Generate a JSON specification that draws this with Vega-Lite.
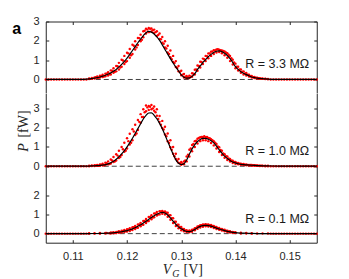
{
"$schema":"https://vega.github.io/schema/vega-lite/v6.json",
"background":"white",
"autosize":{"type":"pad"},
"padding":{"left":11.75,"top":15.5,"right":0,"bottom":0},
"spacing":0,
"bounds":"flush",
"config":{"view":{"stroke":null},"axis":{"grid":false,"domainColor":"#262626","tickColor":"#262626","labelColor":"#262626","labelFont":"Liberation Sans","labelFontSize":11,"tickSize":-3,"labelPadding":9.7,"titleColor":"#262626","domainWidth":1,"tickWidth":1},"axisX":{"labelPadding":11}},
"datasets":{
"base":[{"x":0.105,"y":0},{"x":0.1055,"y":0},{"x":0.106,"y":0},{"x":0.1065,"y":0},{"x":0.107,"y":0},{"x":0.1075,"y":0},{"x":0.108,"y":0},{"x":0.1085,"y":0},{"x":0.109,"y":0},{"x":0.1095,"y":0},{"x":0.11,"y":0},{"x":0.1105,"y":0},{"x":0.111,"y":0},{"x":0.1115,"y":0},{"x":0.112,"y":0},{"x":0.1125,"y":0},{"x":0.1465,"y":0},{"x":0.147,"y":0},{"x":0.1475,"y":0},{"x":0.148,"y":0},{"x":0.1485,"y":0},{"x":0.149,"y":0},{"x":0.1495,"y":0},{"x":0.15,"y":0},{"x":0.1505,"y":0},{"x":0.151,"y":0},{"x":0.1515,"y":0},{"x":0.152,"y":0},{"x":0.1525,"y":0},{"x":0.153,"y":0},{"x":0.1535,"y":0},{"x":0.154,"y":0},{"x":0.1545,"y":0},{"x":0.155,"y":0}],
"fT":[{"x":0.105,"y":0},{"x":0.108,"y":0},{"x":0.11,"y":0},{"x":0.112,"y":0.01},{"x":0.113,"y":0.03},{"x":0.1135,"y":0.05},{"x":0.114,"y":0.07},{"x":0.1145,"y":0.1},{"x":0.115,"y":0.13},{"x":0.1155,"y":0.17},{"x":0.116,"y":0.22},{"x":0.1165,"y":0.28},{"x":0.117,"y":0.34},{"x":0.1175,"y":0.43},{"x":0.118,"y":0.52},{"x":0.1185,"y":0.65},{"x":0.119,"y":0.78},{"x":0.1195,"y":0.94},{"x":0.12,"y":1.1},{"x":0.1205,"y":1.3},{"x":0.121,"y":1.5},{"x":0.1215,"y":1.7},{"x":0.122,"y":1.9},{"x":0.1225,"y":2.09},{"x":0.123,"y":2.27},{"x":0.1235,"y":2.42},{"x":0.124,"y":2.49},{"x":0.1245,"y":2.45},{"x":0.125,"y":2.35},{"x":0.1255,"y":2.2},{"x":0.126,"y":2.02},{"x":0.1265,"y":1.79},{"x":0.127,"y":1.55},{"x":0.1275,"y":1.31},{"x":0.128,"y":1.08},{"x":0.1285,"y":0.85},{"x":0.129,"y":0.64},{"x":0.1295,"y":0.44},{"x":0.13,"y":0.24},{"x":0.1305,"y":0.12},{"x":0.131,"y":0.07},{"x":0.1315,"y":0.08},{"x":0.132,"y":0.16},{"x":0.1325,"y":0.3},{"x":0.133,"y":0.52},{"x":0.1335,"y":0.7},{"x":0.134,"y":0.88},{"x":0.1345,"y":1.03},{"x":0.135,"y":1.18},{"x":0.1355,"y":1.3},{"x":0.136,"y":1.4},{"x":0.1365,"y":1.46},{"x":0.137,"y":1.48},{"x":0.1375,"y":1.44},{"x":0.138,"y":1.36},{"x":0.1385,"y":1.24},{"x":0.139,"y":1.08},{"x":0.1395,"y":0.88},{"x":0.14,"y":0.66},{"x":0.1405,"y":0.52},{"x":0.141,"y":0.4},{"x":0.1415,"y":0.32},{"x":0.142,"y":0.25},{"x":0.1425,"y":0.19},{"x":0.143,"y":0.13},{"x":0.1435,"y":0.1},{"x":0.144,"y":0.07},{"x":0.1445,"y":0.05},{"x":0.145,"y":0.04},{"x":0.1455,"y":0.03},{"x":0.146,"y":0.02},{"x":0.148,"y":0.005},{"x":0.15,"y":0},{"x":0.155,"y":0}],
"dT":[{"x":0.113,"y":0.05},{"x":0.113,"y":0.02},{"x":0.1135,"y":0.08},{"x":0.1135,"y":0.03},{"x":0.114,"y":0.1},{"x":0.114,"y":0.05},{"x":0.1145,"y":0.15},{"x":0.1145,"y":0.07},{"x":0.115,"y":0.19},{"x":0.115,"y":0.1},{"x":0.1155,"y":0.24},{"x":0.1155,"y":0.13},{"x":0.116,"y":0.3},{"x":0.116,"y":0.17},{"x":0.1165,"y":0.38},{"x":0.1165,"y":0.21},{"x":0.117,"y":0.47},{"x":0.117,"y":0.26},{"x":0.1175,"y":0.58},{"x":0.1175,"y":0.35},{"x":0.118,"y":0.7},{"x":0.118,"y":0.42},{"x":0.1185,"y":0.86},{"x":0.1185,"y":0.52},{"x":0.119,"y":1.02},{"x":0.119,"y":0.66},{"x":0.1195,"y":1.22},{"x":0.1195,"y":0.8},{"x":0.12,"y":1.38},{"x":0.12,"y":0.95},{"x":0.1205,"y":1.58},{"x":0.1205,"y":1.12},{"x":0.121,"y":1.8},{"x":0.121,"y":1.32},{"x":0.1215,"y":1.98},{"x":0.1215,"y":1.55},{"x":0.122,"y":2.15},{"x":0.122,"y":1.78},{"x":0.1225,"y":2.32},{"x":0.1225,"y":1.98},{"x":0.123,"y":2.5},{"x":0.123,"y":2.18},{"x":0.1235,"y":2.62},{"x":0.1235,"y":2.38},{"x":0.124,"y":2.66},{"x":0.124,"y":2.45},{"x":0.1245,"y":2.64},{"x":0.1245,"y":2.48},{"x":0.125,"y":2.58},{"x":0.125,"y":2.4},{"x":0.1255,"y":2.5},{"x":0.1255,"y":2.25},{"x":0.126,"y":2.38},{"x":0.126,"y":2.1},{"x":0.1265,"y":2.2},{"x":0.1265,"y":1.9},{"x":0.127,"y":1.98},{"x":0.127,"y":1.65},{"x":0.1275,"y":1.75},{"x":0.1275,"y":1.4},{"x":0.128,"y":1.5},{"x":0.128,"y":1.15},{"x":0.1285,"y":1.22},{"x":0.1285,"y":0.9},{"x":0.129,"y":0.95},{"x":0.129,"y":0.65},{"x":0.1295,"y":0.7},{"x":0.1295,"y":0.42},{"x":0.13,"y":0.45},{"x":0.13,"y":0.22},{"x":0.1305,"y":0.28},{"x":0.1305,"y":0.1},{"x":0.131,"y":0.18},{"x":0.131,"y":0.06},{"x":0.1315,"y":0.2},{"x":0.1315,"y":0.07},{"x":0.132,"y":0.32},{"x":0.132,"y":0.14},{"x":0.1325,"y":0.5},{"x":0.1325,"y":0.26},{"x":0.133,"y":0.72},{"x":0.133,"y":0.45},{"x":0.1335,"y":0.92},{"x":0.1335,"y":0.62},{"x":0.134,"y":1.08},{"x":0.134,"y":0.8},{"x":0.1345,"y":1.22},{"x":0.1345,"y":0.95},{"x":0.135,"y":1.35},{"x":0.135,"y":1.1},{"x":0.1355,"y":1.44},{"x":0.1355,"y":1.22},{"x":0.136,"y":1.52},{"x":0.136,"y":1.32},{"x":0.1365,"y":1.55},{"x":0.1365,"y":1.4},{"x":0.137,"y":1.54},{"x":0.137,"y":1.42},{"x":0.1375,"y":1.5},{"x":0.1375,"y":1.36},{"x":0.138,"y":1.45},{"x":0.138,"y":1.25},{"x":0.1385,"y":1.36},{"x":0.1385,"y":1.12},{"x":0.139,"y":1.22},{"x":0.139,"y":0.95},{"x":0.1395,"y":1.02},{"x":0.1395,"y":0.78},{"x":0.14,"y":0.82},{"x":0.14,"y":0.58},{"x":0.1405,"y":0.66},{"x":0.1405,"y":0.46},{"x":0.141,"y":0.52},{"x":0.141,"y":0.35},{"x":0.1415,"y":0.42},{"x":0.1415,"y":0.26},{"x":0.142,"y":0.33},{"x":0.142,"y":0.2},{"x":0.1425,"y":0.25},{"x":0.1425,"y":0.15},{"x":0.143,"y":0.18},{"x":0.143,"y":0.1},{"x":0.1435,"y":0.13},{"x":0.1435,"y":0.07},{"x":0.144,"y":0.09},{"x":0.144,"y":0.05},{"x":0.1445,"y":0.07},{"x":0.1445,"y":0.04},{"x":0.145,"y":0.05},{"x":0.145,"y":0.03},{"x":0.1455,"y":0.04},{"x":0.1455,"y":0.02},{"x":0.146,"y":0.03},{"x":0.146,"y":0.01},
{"x":0.11425,"y":0.11},{"x":0.11475,"y":0.09},{"x":0.11525,"y":0.18},{"x":0.11575,"y":0.16},{"x":0.11625,"y":0.3},{"x":0.11675,"y":0.27},{"x":0.11725,"y":0.45},{"x":0.11775,"y":0.4},{"x":0.11825,"y":0.68},{"x":0.11875,"y":0.62},{"x":0.11925,"y":0.98},{"x":0.11975,"y":0.9},{"x":0.12025,"y":1.35},{"x":0.12075,"y":1.25},{"x":0.12125,"y":1.75},{"x":0.12175,"y":1.66},{"x":0.12225,"y":2.14},{"x":0.12275,"y":2.05},{"x":0.12325,"y":2.52},{"x":0.12375,"y":2.58},{"x":0.12425,"y":2.62},{"x":0.12475,"y":2.55},{"x":0.12525,"y":2.45},{"x":0.12575,"y":2.3},{"x":0.12625,"y":2.08},{"x":0.12675,"y":1.85},{"x":0.12725,"y":1.6},{"x":0.12775,"y":1.32},{"x":0.12825,"y":1.05},{"x":0.12875,"y":0.85},{"x":0.12925,"y":0.6},{"x":0.12975,"y":0.4},{"x":0.13025,"y":0.25},{"x":0.13075,"y":0.14},{"x":0.13125,"y":0.12},{"x":0.13175,"y":0.16},{"x":0.13225,"y":0.3},{"x":0.13275,"y":0.52},{"x":0.13325,"y":0.7},{"x":0.13375,"y":0.9},{"x":0.13425,"y":1.05},{"x":0.13475,"y":1.2},{"x":0.13525,"y":1.34},{"x":0.13575,"y":1.45},{"x":0.13625,"y":1.5},{"x":0.13675,"y":1.56},{"x":0.13725,"y":1.52},{"x":0.13775,"y":1.48},{"x":0.13825,"y":1.4},{"x":0.13875,"y":1.28},{"x":0.13925,"y":1.1},{"x":0.13975,"y":0.88},{"x":0.14025,"y":0.66},{"x":0.14075,"y":0.52},{"x":0.14125,"y":0.4},{"x":0.14175,"y":0.31},{"x":0.14225,"y":0.24},{"x":0.14275,"y":0.17},{"x":0.14325,"y":0.12},{"x":0.14375,"y":0.09},{"x":0.14425,"y":0.06},{"x":0.14475,"y":0.04}],
"fM":[{"x":0.105,"y":0},{"x":0.11,"y":0},{"x":0.113,"y":0.01},{"x":0.1135,"y":0.015},{"x":0.114,"y":0.02},{"x":0.1145,"y":0.03},{"x":0.115,"y":0.04},{"x":0.1155,"y":0.06},{"x":0.116,"y":0.08},{"x":0.1165,"y":0.12},{"x":0.117,"y":0.18},{"x":0.1175,"y":0.26},{"x":0.118,"y":0.36},{"x":0.1185,"y":0.49},{"x":0.119,"y":0.64},{"x":0.1195,"y":0.81},{"x":0.12,"y":1.0},{"x":0.1205,"y":1.22},{"x":0.121,"y":1.45},{"x":0.1215,"y":1.7},{"x":0.122,"y":1.95},{"x":0.1225,"y":2.2},{"x":0.123,"y":2.45},{"x":0.1235,"y":2.64},{"x":0.124,"y":2.76},{"x":0.1245,"y":2.77},{"x":0.125,"y":2.64},{"x":0.1255,"y":2.46},{"x":0.126,"y":2.22},{"x":0.1265,"y":1.94},{"x":0.127,"y":1.62},{"x":0.1275,"y":1.28},{"x":0.128,"y":0.95},{"x":0.1285,"y":0.62},{"x":0.129,"y":0.33},{"x":0.1295,"y":0.15},{"x":0.13,"y":0.09},{"x":0.1305,"y":0.13},{"x":0.131,"y":0.32},{"x":0.1315,"y":0.62},{"x":0.132,"y":0.9},{"x":0.1325,"y":1.12},{"x":0.133,"y":1.28},{"x":0.1335,"y":1.39},{"x":0.134,"y":1.44},{"x":0.1345,"y":1.44},{"x":0.135,"y":1.4},{"x":0.1355,"y":1.32},{"x":0.136,"y":1.21},{"x":0.1365,"y":1.04},{"x":0.137,"y":0.85},{"x":0.1375,"y":0.68},{"x":0.138,"y":0.52},{"x":0.1385,"y":0.4},{"x":0.139,"y":0.3},{"x":0.1395,"y":0.22},{"x":0.14,"y":0.17},{"x":0.1405,"y":0.13},{"x":0.141,"y":0.1},{"x":0.1415,"y":0.08},{"x":0.142,"y":0.07},{"x":0.143,"y":0.05},{"x":0.144,"y":0.035},{"x":0.145,"y":0.02},{"x":0.146,"y":0.015},{"x":0.148,"y":0.005},{"x":0.15,"y":0},{"x":0.155,"y":0}],
"dM":[{"x":0.113,"y":0.03},{"x":0.113,"y":0.0},{"x":0.1135,"y":0.04},{"x":0.1135,"y":0.01},{"x":0.114,"y":0.05},{"x":0.114,"y":0.01},{"x":0.1145,"y":0.07},{"x":0.1145,"y":0.02},{"x":0.115,"y":0.09},{"x":0.115,"y":0.03},{"x":0.1155,"y":0.13},{"x":0.1155,"y":0.04},{"x":0.116,"y":0.18},{"x":0.116,"y":0.06},{"x":0.1165,"y":0.25},{"x":0.1165,"y":0.1},{"x":0.117,"y":0.35},{"x":0.117,"y":0.14},{"x":0.1175,"y":0.48},{"x":0.1175,"y":0.22},{"x":0.118,"y":0.62},{"x":0.118,"y":0.3},{"x":0.1185,"y":0.8},{"x":0.1185,"y":0.42},{"x":0.119,"y":1.0},{"x":0.119,"y":0.58},{"x":0.1195,"y":1.22},{"x":0.1195,"y":0.75},{"x":0.12,"y":1.45},{"x":0.12,"y":0.92},{"x":0.1205,"y":1.68},{"x":0.1205,"y":1.12},{"x":0.121,"y":1.92},{"x":0.121,"y":1.35},{"x":0.1215,"y":2.15},{"x":0.1215,"y":1.62},{"x":0.122,"y":2.4},{"x":0.122,"y":1.88},{"x":0.1225,"y":2.7},{"x":0.1225,"y":2.25},{"x":0.123,"y":2.95},{"x":0.123,"y":2.55},{"x":0.1235,"y":3.15},{"x":0.1235,"y":2.85},{"x":0.124,"y":3.12},{"x":0.124,"y":2.92},{"x":0.1245,"y":3.18},{"x":0.1245,"y":2.95},{"x":0.125,"y":3.1},{"x":0.125,"y":2.88},{"x":0.1255,"y":2.95},{"x":0.1255,"y":2.62},{"x":0.126,"y":2.6},{"x":0.126,"y":2.3},{"x":0.1265,"y":2.35},{"x":0.1265,"y":1.98},{"x":0.127,"y":2.05},{"x":0.127,"y":1.65},{"x":0.1275,"y":1.7},{"x":0.1275,"y":1.3},{"x":0.128,"y":1.35},{"x":0.128,"y":0.98},{"x":0.1285,"y":1.0},{"x":0.1285,"y":0.65},{"x":0.129,"y":0.65},{"x":0.129,"y":0.38},{"x":0.1295,"y":0.38},{"x":0.1295,"y":0.18},{"x":0.13,"y":0.22},{"x":0.13,"y":0.08},{"x":0.1305,"y":0.25},{"x":0.1305,"y":0.1},{"x":0.131,"y":0.5},{"x":0.131,"y":0.25},{"x":0.1315,"y":0.85},{"x":0.1315,"y":0.5},{"x":0.132,"y":1.1},{"x":0.132,"y":0.78},{"x":0.1325,"y":1.3},{"x":0.1325,"y":1.0},{"x":0.133,"y":1.42},{"x":0.133,"y":1.18},{"x":0.1335,"y":1.5},{"x":0.1335,"y":1.3},{"x":0.134,"y":1.52},{"x":0.134,"y":1.35},{"x":0.1345,"y":1.5},{"x":0.1345,"y":1.35},{"x":0.135,"y":1.46},{"x":0.135,"y":1.3},{"x":0.1355,"y":1.4},{"x":0.1355,"y":1.2},{"x":0.136,"y":1.3},{"x":0.136,"y":1.08},{"x":0.1365,"y":1.15},{"x":0.1365,"y":0.92},{"x":0.137,"y":0.98},{"x":0.137,"y":0.74},{"x":0.1375,"y":0.8},{"x":0.1375,"y":0.58},{"x":0.138,"y":0.62},{"x":0.138,"y":0.44},{"x":0.1385,"y":0.5},{"x":0.1385,"y":0.32},{"x":0.139,"y":0.38},{"x":0.139,"y":0.24},{"x":0.1395,"y":0.28},{"x":0.1395,"y":0.17},{"x":0.14,"y":0.22},{"x":0.14,"y":0.13},{"x":0.1405,"y":0.17},{"x":0.1405,"y":0.1},{"x":0.141,"y":0.13},{"x":0.141,"y":0.08},{"x":0.1415,"y":0.11},{"x":0.1415,"y":0.06},{"x":0.142,"y":0.09},{"x":0.142,"y":0.05},{"x":0.1425,"y":0.07},{"x":0.1425,"y":0.04},{"x":0.143,"y":0.06},{"x":0.143,"y":0.03},{"x":0.1435,"y":0.05},{"x":0.1435,"y":0.02},{"x":0.144,"y":0.04},{"x":0.144,"y":0.02},{"x":0.1445,"y":0.03},{"x":0.1445,"y":0.01},{"x":0.145,"y":0.03},{"x":0.145,"y":0.01},{"x":0.1455,"y":0.02},{"x":0.1455,"y":0.0},{"x":0.146,"y":0.02},{"x":0.146,"y":0.0},
{"x":0.11425,"y":0.04},{"x":0.11475,"y":0.02},{"x":0.11525,"y":0.08},{"x":0.11575,"y":0.05},{"x":0.11625,"y":0.15},{"x":0.11675,"y":0.12},{"x":0.11725,"y":0.3},{"x":0.11775,"y":0.25},{"x":0.11825,"y":0.55},{"x":0.11875,"y":0.48},{"x":0.11925,"y":0.88},{"x":0.11975,"y":0.8},{"x":0.12025,"y":1.3},{"x":0.12075,"y":1.22},{"x":0.12125,"y":1.8},{"x":0.12175,"y":1.7},{"x":0.12225,"y":2.3},{"x":0.12275,"y":2.55},{"x":0.12325,"y":2.8},{"x":0.12375,"y":3.05},{"x":0.12425,"y":3.08},{"x":0.12475,"y":3.0},{"x":0.12525,"y":2.8},{"x":0.12575,"y":2.45},{"x":0.12625,"y":2.15},{"x":0.12675,"y":1.9},{"x":0.12725,"y":1.55},{"x":0.12775,"y":1.2},{"x":0.12825,"y":0.85},{"x":0.12875,"y":0.52},{"x":0.12925,"y":0.28},{"x":0.12975,"y":0.16},{"x":0.13025,"y":0.14},{"x":0.13075,"y":0.3},{"x":0.13125,"y":0.6},{"x":0.13175,"y":0.92},{"x":0.13225,"y":1.15},{"x":0.13275,"y":1.32},{"x":0.13325,"y":1.46},{"x":0.13375,"y":1.52},{"x":0.13425,"y":1.55},{"x":0.13475,"y":1.52},{"x":0.13525,"y":1.45},{"x":0.13575,"y":1.35},{"x":0.13625,"y":1.22},{"x":0.13675,"y":1.02},{"x":0.13725,"y":0.84},{"x":0.13775,"y":0.66},{"x":0.13825,"y":0.52},{"x":0.13875,"y":0.4},{"x":0.13925,"y":0.3},{"x":0.13975,"y":0.22},{"x":0.14025,"y":0.17},{"x":0.14075,"y":0.13},{"x":0.14125,"y":0.1},{"x":0.14175,"y":0.08},{"x":0.14225,"y":0.07},{"x":0.14275,"y":0.06},{"x":0.14325,"y":0.05},{"x":0.14375,"y":0.04},{"x":0.14425,"y":0.03},{"x":0.14475,"y":0.03}],
"fB":[{"x":0.105,"y":0},{"x":0.11,"y":0},{"x":0.113,"y":0.005},{"x":0.114,"y":0.008},{"x":0.115,"y":0.01},{"x":0.116,"y":0.02},{"x":0.117,"y":0.03},{"x":0.1175,"y":0.045},{"x":0.118,"y":0.06},{"x":0.1185,"y":0.08},{"x":0.119,"y":0.1},{"x":0.1195,"y":0.13},{"x":0.12,"y":0.16},{"x":0.1205,"y":0.2},{"x":0.121,"y":0.25},{"x":0.1215,"y":0.31},{"x":0.122,"y":0.38},{"x":0.1225,"y":0.46},{"x":0.123,"y":0.55},{"x":0.1235,"y":0.64},{"x":0.124,"y":0.74},{"x":0.1245,"y":0.84},{"x":0.125,"y":0.93},{"x":0.1255,"y":1.01},{"x":0.126,"y":1.07},{"x":0.1265,"y":1.1},{"x":0.127,"y":1.07},{"x":0.1275,"y":0.97},{"x":0.128,"y":0.82},{"x":0.1285,"y":0.65},{"x":0.129,"y":0.48},{"x":0.1295,"y":0.35},{"x":0.13,"y":0.25},{"x":0.1305,"y":0.17},{"x":0.131,"y":0.11},{"x":0.1315,"y":0.1},{"x":0.132,"y":0.14},{"x":0.1325,"y":0.22},{"x":0.133,"y":0.31},{"x":0.1335,"y":0.38},{"x":0.134,"y":0.42},{"x":0.1345,"y":0.43},{"x":0.135,"y":0.42},{"x":0.1355,"y":0.39},{"x":0.136,"y":0.34},{"x":0.1365,"y":0.29},{"x":0.137,"y":0.24},{"x":0.1375,"y":0.2},{"x":0.138,"y":0.16},{"x":0.1385,"y":0.12},{"x":0.139,"y":0.09},{"x":0.1395,"y":0.07},{"x":0.14,"y":0.05},{"x":0.141,"y":0.03},{"x":0.142,"y":0.02},{"x":0.143,"y":0.01},{"x":0.145,"y":0},{"x":0.155,"y":0}],
"dB":[{"x":0.113,"y":0.02},{"x":0.113,"y":0.0},{"x":0.114,"y":0.02},{"x":0.114,"y":0.0},{"x":0.115,"y":0.03},{"x":0.115,"y":0.0},{"x":0.116,"y":0.04},{"x":0.116,"y":0.01},{"x":0.117,"y":0.06},{"x":0.117,"y":0.01},{"x":0.1175,"y":0.07},{"x":0.1175,"y":0.02},{"x":0.118,"y":0.09},{"x":0.118,"y":0.03},{"x":0.1185,"y":0.12},{"x":0.1185,"y":0.05},{"x":0.119,"y":0.15},{"x":0.119,"y":0.06},{"x":0.1195,"y":0.19},{"x":0.1195,"y":0.08},{"x":0.12,"y":0.23},{"x":0.12,"y":0.11},{"x":0.1205,"y":0.28},{"x":0.1205,"y":0.14},{"x":0.121,"y":0.33},{"x":0.121,"y":0.19},{"x":0.1215,"y":0.4},{"x":0.1215,"y":0.24},{"x":0.122,"y":0.48},{"x":0.122,"y":0.3},{"x":0.1225,"y":0.56},{"x":0.1225,"y":0.38},{"x":0.123,"y":0.66},{"x":0.123,"y":0.46},{"x":0.1235,"y":0.76},{"x":0.1235,"y":0.55},{"x":0.124,"y":0.86},{"x":0.124,"y":0.66},{"x":0.1245,"y":0.96},{"x":0.1245,"y":0.75},{"x":0.125,"y":1.05},{"x":0.125,"y":0.85},{"x":0.1255,"y":1.12},{"x":0.1255,"y":0.94},{"x":0.126,"y":1.16},{"x":0.126,"y":1.0},{"x":0.1265,"y":1.18},{"x":0.1265,"y":1.03},{"x":0.127,"y":1.15},{"x":0.127,"y":1.0},{"x":0.1275,"y":1.08},{"x":0.1275,"y":0.88},{"x":0.128,"y":0.95},{"x":0.128,"y":0.72},{"x":0.1285,"y":0.8},{"x":0.1285,"y":0.55},{"x":0.129,"y":0.62},{"x":0.129,"y":0.4},{"x":0.1295,"y":0.46},{"x":0.1295,"y":0.28},{"x":0.13,"y":0.34},{"x":0.13,"y":0.18},{"x":0.1305,"y":0.24},{"x":0.1305,"y":0.12},{"x":0.131,"y":0.18},{"x":0.131,"y":0.08},{"x":0.1315,"y":0.16},{"x":0.1315,"y":0.07},{"x":0.132,"y":0.2},{"x":0.132,"y":0.1},{"x":0.1325,"y":0.28},{"x":0.1325,"y":0.17},{"x":0.133,"y":0.37},{"x":0.133,"y":0.25},{"x":0.1335,"y":0.44},{"x":0.1335,"y":0.32},{"x":0.134,"y":0.48},{"x":0.134,"y":0.36},{"x":0.1345,"y":0.49},{"x":0.1345,"y":0.38},{"x":0.135,"y":0.48},{"x":0.135,"y":0.37},{"x":0.1355,"y":0.45},{"x":0.1355,"y":0.34},{"x":0.136,"y":0.4},{"x":0.136,"y":0.29},{"x":0.1365,"y":0.34},{"x":0.1365,"y":0.24},{"x":0.137,"y":0.29},{"x":0.137,"y":0.2},{"x":0.1375,"y":0.24},{"x":0.1375,"y":0.16},{"x":0.138,"y":0.2},{"x":0.138,"y":0.12},{"x":0.1385,"y":0.15},{"x":0.1385,"y":0.09},{"x":0.139,"y":0.12},{"x":0.139,"y":0.06},{"x":0.1395,"y":0.09},{"x":0.1395,"y":0.05},{"x":0.14,"y":0.07},{"x":0.14,"y":0.03},{"x":0.141,"y":0.05},{"x":0.141,"y":0.01},{"x":0.142,"y":0.03},{"x":0.142,"y":0.01},{"x":0.143,"y":0.02},{"x":0.143,"y":0.0},{"x":0.144,"y":0.01},{"x":0.145,"y":0.01},{"x":0.146,"y":0.01},
{"x":0.11625,"y":0.03},{"x":0.11675,"y":0.02},{"x":0.11725,"y":0.05},{"x":0.11775,"y":0.04},{"x":0.11825,"y":0.09},{"x":0.11875,"y":0.08},{"x":0.11925,"y":0.14},{"x":0.11975,"y":0.13},{"x":0.12025,"y":0.22},{"x":0.12075,"y":0.21},{"x":0.12125,"y":0.33},{"x":0.12175,"y":0.32},{"x":0.12225,"y":0.48},{"x":0.12275,"y":0.47},{"x":0.12325,"y":0.66},{"x":0.12375,"y":0.65},{"x":0.12425,"y":0.86},{"x":0.12475,"y":0.84},{"x":0.12525,"y":1.05},{"x":0.12575,"y":1.0},{"x":0.12625,"y":1.15},{"x":0.12675,"y":1.12},{"x":0.12725,"y":1.08},{"x":0.12775,"y":0.96},{"x":0.12825,"y":0.8},{"x":0.12875,"y":0.62},{"x":0.12925,"y":0.46},{"x":0.12975,"y":0.34},{"x":0.13025,"y":0.24},{"x":0.13075,"y":0.17},{"x":0.13125,"y":0.13},{"x":0.13175,"y":0.14},{"x":0.13225,"y":0.21},{"x":0.13275,"y":0.3},{"x":0.13325,"y":0.38},{"x":0.13375,"y":0.44},{"x":0.13425,"y":0.46},{"x":0.13475,"y":0.46},{"x":0.13525,"y":0.44},{"x":0.13575,"y":0.4},{"x":0.13625,"y":0.34},{"x":0.13675,"y":0.28},{"x":0.13725,"y":0.23},{"x":0.13775,"y":0.19},{"x":0.13825,"y":0.15},{"x":0.13875,"y":0.11},{"x":0.13925,"y":0.08},{"x":0.13975,"y":0.06}]
},
"vconcat":[
{"width":271,"height":71.5,
"resolve":{"axis":{"x":"independent","y":"independent"}},
"layer":[
{"data":{"values":[{}]},"mark":{"type":"rule","color":"#404040","strokeDash":[5,3],"strokeWidth":1},"encoding":{"y":{"datum":0,"type":"quantitative","scale":{"domain":[-0.7,3],"nice":false,"zero":false},"axis":null}}},
{"data":{"name":"base"},"mark":{"type":"circle","color":"#ff0000","size":6,"opacity":1},"encoding":{"x":{"field":"x","type":"quantitative","scale":{"domain":[0.105,0.155],"nice":false,"zero":false},"axis":null},"y":{"field":"y","type":"quantitative","axis":null}}},
{"data":{"name":"dT"},"mark":{"type":"circle","color":"#ff0000","size":6,"opacity":1},"encoding":{"x":{"field":"x","type":"quantitative","axis":{"orient":"top","labels":false,"title":null,"values":[0.11,0.12,0.13,0.14,0.15]}},"y":{"field":"y","type":"quantitative","axis":{"orient":"left","values":[0,1,2,3],"title":"a","titleAngle":0,"titleX":-29.5,"titleY":12.3,"titleAlign":"center","titleBaseline":"alphabetic","titleFont":"Liberation Sans","titleFontSize":16,"titleFontWeight":"bold","titleColor":"#000000"}}}},
{"data":{"name":"fT"},"mark":{"type":"line","color":"#000000","strokeWidth":1.2,"interpolate":"monotone"},"encoding":{"x":{"field":"x","type":"quantitative","axis":null},"y":{"field":"y","type":"quantitative","axis":{"orient":"right","labels":false,"title":null,"values":[0,1,2,3]}}}},
{"data":{"values":[{}]},"mark":{"type":"text","align":"right","baseline":"middle","font":"Liberation Sans","fontSize":12.5,"color":"#1a1a1a"},"encoding":{"x":{"datum":0.1536,"type":"quantitative","axis":null},"y":{"datum":0.8,"type":"quantitative","axis":null},"text":{"value":"R = 3.3 MΩ"}}}
]},
{"width":271,"height":76,
"resolve":{"axis":{"x":"independent","y":"independent"}},
"layer":[
{"data":{"values":[{}]},"mark":{"type":"rule","color":"#404040","strokeDash":[5,3],"strokeWidth":1},"encoding":{"y":{"datum":0,"type":"quantitative","scale":{"domain":[-0.17,3.77],"nice":false,"zero":false},"axis":null}}},
{"data":{"name":"base"},"mark":{"type":"circle","color":"#ff0000","size":6,"opacity":1},"encoding":{"x":{"field":"x","type":"quantitative","scale":{"domain":[0.105,0.155],"nice":false,"zero":false},"axis":null},"y":{"field":"y","type":"quantitative","axis":null}}},
{"data":{"name":"dM"},"mark":{"type":"circle","color":"#ff0000","size":6,"opacity":1},"encoding":{"x":{"field":"x","type":"quantitative","axis":null},"y":{"field":"y","type":"quantitative","axis":{"orient":"left","values":[0,1,2,3],"title":"P","titleAngle":-90,"titleX":-18.2,"titleY":53.5,"titleAlign":"center","titleBaseline":"alphabetic","titleFont":"Liberation Serif","titleFontSize":14,"titleFontStyle":"italic","titleFontWeight":"normal"}}}},
{"data":{"name":"fM"},"mark":{"type":"line","color":"#000000","strokeWidth":1.2,"interpolate":"monotone"},"encoding":{"x":{"field":"x","type":"quantitative","axis":null},"y":{"field":"y","type":"quantitative","axis":{"orient":"right","labels":false,"values":[0,1,2,3],"title":"[fW]","titleAngle":-90,"titleX":-289.2,"titleY":30,"titleAlign":"center","titleBaseline":"alphabetic","titleFont":"Liberation Serif","titleFontSize":14,"titleFontWeight":"normal"}}}},
{"data":{"values":[{}]},"mark":{"type":"text","align":"right","baseline":"middle","font":"Liberation Sans","fontSize":12.5,"color":"#1a1a1a"},"encoding":{"x":{"datum":0.1536,"type":"quantitative","axis":null},"y":{"datum":0.79,"type":"quantitative","axis":null},"text":{"value":"R = 1.0 MΩ"}}}
]},
{"width":271,"height":73.2,
"resolve":{"axis":{"x":"independent","y":"independent"}},
"layer":[
{"data":{"values":[{}]},"mark":{"type":"rule","color":"#404040","strokeDash":[5,3],"strokeWidth":1},"encoding":{"y":{"datum":0,"type":"quantitative","scale":{"domain":[-0.47,3.33],"nice":false,"zero":false},"axis":null}}},
{"data":{"name":"base"},"mark":{"type":"circle","color":"#ff0000","size":6,"opacity":1},"encoding":{"x":{"field":"x","type":"quantitative","scale":{"domain":[0.105,0.155],"nice":false,"zero":false},"axis":null},"y":{"field":"y","type":"quantitative","axis":null}}},
{"data":{"name":"dB"},"mark":{"type":"circle","color":"#ff0000","size":6,"opacity":1},"encoding":{"x":{"field":"x","type":"quantitative","axis":{"orient":"bottom","values":[0.11,0.12,0.13,0.14,0.15],"format":".2f","title":"[V]","titleX":137.3,"titleY":30.3,"titleAlign":"left","titleBaseline":"alphabetic","titleFont":"Liberation Serif","titleFontSize":14,"titleFontWeight":"normal"}},"y":{"field":"y","type":"quantitative","axis":{"orient":"left","values":[0,1,2],"title":"V","titleAngle":0,"titleX":116.6,"titleY":103.5,"titleAlign":"left","titleBaseline":"alphabetic","titleFont":"Liberation Serif","titleFontSize":14,"titleFontStyle":"italic","titleFontWeight":"normal"}}}},
{"data":{"name":"fB"},"mark":{"type":"line","color":"#000000","strokeWidth":1.2,"interpolate":"monotone"},"encoding":{"x":{"field":"x","type":"quantitative","axis":null},"y":{"field":"y","type":"quantitative","axis":{"orient":"right","labels":false,"values":[0,1,2],"title":"G","titleAngle":0,"titleX":-145,"titleY":106.5,"titleAlign":"left","titleBaseline":"alphabetic","titleFont":"Liberation Serif","titleFontSize":10,"titleFontStyle":"italic","titleFontWeight":"normal"}}}},
{"data":{"values":[{}]},"mark":{"type":"text","align":"right","baseline":"middle","font":"Liberation Sans","fontSize":12.5,"color":"#1a1a1a"},"encoding":{"x":{"datum":0.1536,"type":"quantitative","axis":null},"y":{"datum":0.78,"type":"quantitative","axis":null},"text":{"value":"R = 0.1 MΩ"}}}
]}
]
}
